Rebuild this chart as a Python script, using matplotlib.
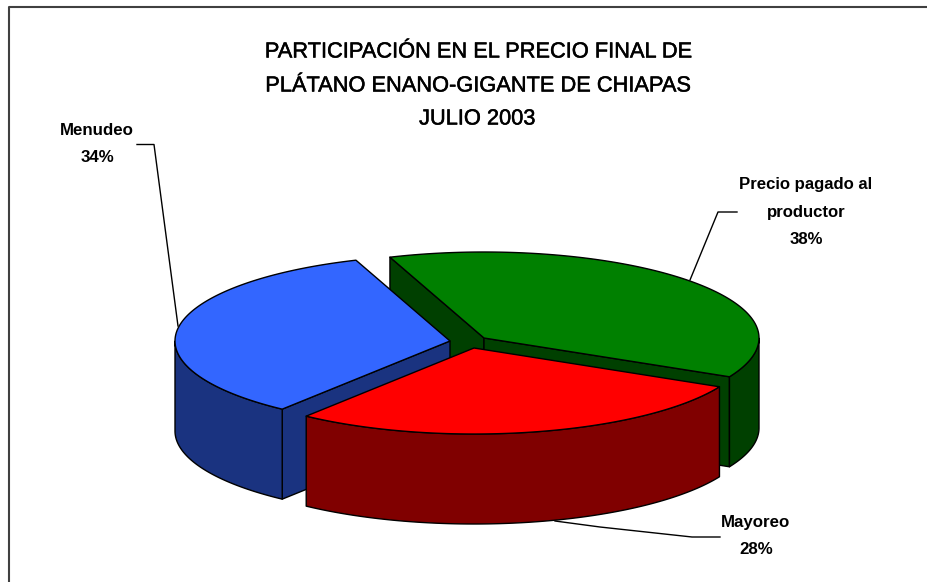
import numpy as np
import matplotlib
matplotlib.use("Agg")
import matplotlib.pyplot as plt
import matplotlib.patheffects as pe
from matplotlib.patches import Polygon

plt.rcParams['font.family'] = ['Liberation Sans', 'DejaVu Sans']

categories = ["Precio pagado al\nproductor", "Mayoreo", "Menudeo"]
shares = [38, 28, 34]
top_colors = ["#008000", "#ff0000", "#3366ff"]
side_colors = ["#004000", "#800000", "#1a3380"]
title_lines = ["PARTICIPACIÓN EN EL PRECIO FINAL DE",
               "PLÁTANO ENANO-GIGANTE DE CHIAPAS",
               "JULIO 2003"]

W, H = 927, 582
fig = plt.figure(figsize=(W/100, H/100), dpi=100, facecolor="white")
ax = fig.add_axes([0, 0, 1, 1])
ax.set_xlim(0, W)
ax.set_ylim(H, 0)
ax.axis("off")

# chart frame: only the top and left edges are in the picture
ax.plot([W, 9.5, 9.5], [6.5, 6.5, H], color="#404040", lw=1.5, solid_capstyle="butt")

# pie geometry
A, B, DEPTH = 275, 86, 90
START = 110.0
centers = [(484, 338), (474, 348), (450, 341)]
order = [0, 2, 1]  # painter's order

fracs = np.array(shares) / sum(shares)
ends = START - np.cumsum(fracs) * 360
starts = np.r_[START, ends[:-1]]

def rim(cx, cy, a0, a1):
    t = np.radians(np.linspace(a0, a1, 160))
    return np.c_[cx + A*np.cos(t), cy - B*np.sin(t)]

def poly(pts, color):
    ax.add_patch(Polygon(pts, closed=True, fc=color, ec="black", lw=1.0, joinstyle="round"))

def wall_visible(c, p, mid):
    e = p - c
    m = mid - c
    return m[1] < e[1] / e[0] * m[0]

for i in order:
    cx, cy = centers[i]
    a0, a1 = starts[i], ends[i]
    arc = rim(cx, cy, a0, a1)
    c = np.array([cx, cy], dtype=float)
    dn = np.array([0, DEPTH])
    mid = arc[len(arc)//2]
    # radial walls that face the viewer
    for p in (arc[0], arc[-1]):
        if wall_visible(c, p, mid):
            poly(np.array([c, p, p + dn, c + dn]), side_colors[i])
    # outer wall: the part of the rim facing the viewer
    ang = np.linspace(a0, a1, 160)
    mask = np.sin(np.radians(ang)) <= 0
    if mask.any():
        front = arc[mask]
        poly(np.vstack([front, (front + dn)[::-1]]), side_colors[i])
    # top face
    poly(np.vstack([c, arc]), top_colors[i])

# title
heavy = [pe.withStroke(linewidth=0.35, foreground="black")]
for line, y in zip(title_lines, [52, 86, 119]):
    ax.text(477, y, line, ha="center", va="center", fontsize=15.7, color="black",
            path_effects=heavy)

# labels
lab = dict(ha="center", va="center", fontweight="bold", color="black", linespacing=2.0)
ax.text(806, 212, f"{categories[0]}\n{shares[0]}%", fontsize=12.1, **lab)
ax.text(756, 536, f"{categories[1]}\n{shares[1]}%", fontsize=12.2, **lab)
ax.text(97, 144, f"{categories[2]}\n{shares[2]}%", fontsize=12.2, **lab)

# leader lines
ax.plot([137, 154, 178], [144.5, 144.5, 326], color="black", lw=1.0)
ax.plot([737, 718, 690], [212, 212, 280], color="black", lw=1.0)
ax.plot([720, 692, 600, 555], [537, 537, 527, 521], color="black", lw=1.0)

fig.savefig("out.png", dpi=100)
